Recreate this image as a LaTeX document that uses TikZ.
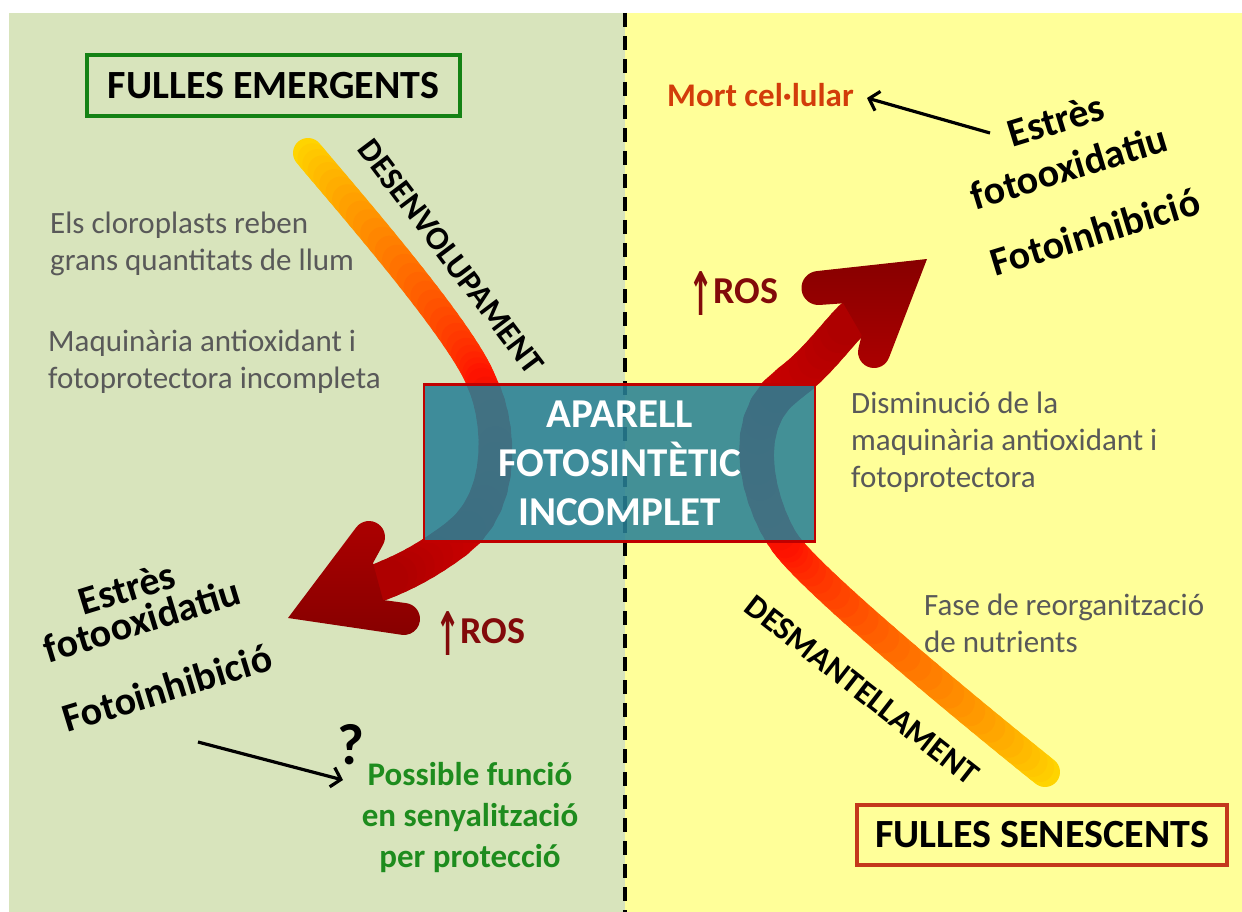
\documentclass[tikz,border=0pt]{standalone}
\usepackage{fontspec}
\setmainfont{Carlito}
\newfontfamily\arrowfont{DejaVu Sans}
\usetikzlibrary{arrows.meta}
\definecolor{bggreen}{RGB}{216,228,188}
\definecolor{bgyellow}{RGB}{255,255,153}
\definecolor{gYel}{RGB}{255,215,0}
\definecolor{gRed}{RGB}{255,20,0}
\definecolor{aRed}{RGB}{200,0,0}
\definecolor{aMid}{RGB}{172,0,0}
\definecolor{aDark}{RGB}{135,0,0}
\definecolor{boxteal}{RGB}{40,128,150}
\definecolor{boxred}{RGB}{192,0,0}
\definecolor{emgreen}{RGB}{20,130,20}
\definecolor{senred}{RGB}{196,56,28}
\definecolor{txtgray}{RGB}{89,89,89}
\definecolor{rosred}{RGB}{130,10,10}
\definecolor{mortred}{RGB}{210,60,10}
\definecolor{possgreen}{RGB}{30,140,30}
\newcommand\gradcurve[9]{%
  \foreach \i in {0,...,#9}{%
    \pgfmathsetmacro\tpos{\i/#9}%
    \path #1 .. controls #2 and #3 .. #4 coordinate[pos=\tpos] (gc\i);%
  }%
  \pgfmathtruncatemacro\nm{#9-1}%
  \foreach \i in {0,...,\nm}{%
    \pgfmathtruncatemacro\j{\i+1}%
    \pgfmathsetmacro\p{100*(\i+0.5)/#9}%
    \pgfmathsetmacro\w{#7+(#8-#7)*(\i+0.5)/#9}%
    \draw[line width=\w pt, line cap=round, color=#6!\p!#5] (gc\i) -- (gc\j);%
  }%
}
\newcommand\uparr{{\arrowfont\bfseries\fontsize{40}{40}\selectfont\raisebox{-12pt}{\scalebox{0.75}[1.5]{↑}}}}
\begin{document}
\begin{tikzpicture}[x=1pt,y=-1pt,
  titlebox/.style={draw, line width=4pt, font=\fontsize{40}{48}\selectfont\bfseries, inner sep=0pt},
  graytxt/.style={text=txtgray, font=\fontsize{31}{37}\selectfont, align=left, anchor=west, inner sep=0pt},
  stress/.style={font=\fontsize{40}{48}\selectfont\bfseries, rotate=17, inner sep=0pt},
  phase/.style={font=\fontsize{33}{37}\selectfont\bfseries, inner sep=0pt},
  ros/.style={text=rosred, font=\fontsize{38}{46}\selectfont\bfseries, inner sep=0pt, anchor=base west},
  blackarrow/.style={line width=3.2pt, -{Straight Barb[length=9pt,width=20pt,line width=3.2pt]}},
  divider/.style={line width=3.5pt, dash pattern=on 14pt off 9pt}
]
\useasboundingbox (0,0) rectangle (1242,912);
\fill[white] (0,0) rectangle (1242,912);
\fill[bggreen] (9,13) rectangle (625,912);
\fill[bgyellow] (625,13) rectangle (1242,912);
\coordinate (dtop) at (625,13);
\coordinate (dbot) at (625,912);
\draw[divider] (dtop) -- (dbot);

% left curve (development) and arrow
\gradcurve{(308,153)}{(350,203)}{(465,335)}{(482,383)}{gYel}{gRed}{30}{30}{30}
\gradcurve{(482,383)}{(498,415)}{(510,500)}{(455,540)}{gRed}{aRed}{30}{38}{12}
\gradcurve{(455,540)}{(425,562)}{(405,572)}{(380,582)}{aRed}{aMid}{38}{38}{8}
\shade[top color=aMid, bottom color=aDark]
  (288,618) -- (356.2,527.4) arc[start angle=-143, end angle=28.6, radius=16]
  -- (373,563) -- (383,600) -- (406.1,603.1) arc[start angle=-82.5, end angle=98.4, radius=16]
  -- cycle;

% right curve (dismantling) and arrow
\gradcurve{(1045,772)}{(990,728)}{(815,585)}{(785,543)}{gYel}{gRed}{30}{30}{30}
\gradcurve{(785,543)}{(765,515)}{(730,425)}{(790,383)}{gRed}{aRed}{30}{38}{12}
\gradcurve{(790,383)}{(815,365)}{(835,337)}{(852.5,319)}{aRed}{aMid}{38}{38}{8}
\shade[top color=aDark, bottom color=aMid]
  (927,259) -- (816.6,271.1) arc[start angle=-96.3, end angle=-274.4, radius=17]
  -- (843.3,303.3) -- (861.7,335) -- (858.5,348.2) arc[start angle=193.8, end angle=21.1, radius=16]
  -- cycle;

% central box
\node[draw=boxred, line width=2.5pt, fill=boxteal, fill opacity=0.87, draw opacity=1, text opacity=1,
      minimum width=391pt, minimum height=157pt, inner sep=0pt, text=white, align=center,
      font=\fontsize{41}{49}\selectfont\bfseries] (app) at (619.5,463) {APARELL\\FOTOSINTÈTIC\\INCOMPLET};

% title boxes
\node[titlebox, draw=emgreen, minimum width=373pt, minimum height=61pt] (emerg) at (273.5,85.5) {FULLES EMERGENTS};
\node[titlebox, draw=senred, minimum width=370pt, minimum height=60pt] (senes) at (1042,835) {FULLES SENESCENTS};

% gray texts
\node[graytxt] (g1) at (50,243.5) {Els cloroplasts reben\\grans quantitats de llum};
\node[graytxt] (g2) at (48,361.5) {Maquinària antioxidant i\\fotoprotectora incompleta};
\node[graytxt] (g3) at (851,442) {Disminució de la\\maquinària antioxidant i\\fotoprotectora};
\node[graytxt] (g4) at (924,623) {Fase de reorganització\\de nutrients};

% phase labels
\node[phase, rotate=-53] (desenv) at (451,257) {DESENVOLUPAMENT};
\node[phase, rotate=-38] (desmant) at (862,690) {DESMANTELLAMENT};

% stress texts left
\node[stress] (ls1) at (127,588) {Estrès};
\node[stress] (ls2) at (142,620) {fotooxidatiu};
\node[stress] (ls3) at (167,688) {Fotoinhibició};
% stress texts right
\node[stress] (rs1) at (1056,120) {Estrès};
\node[stress] (rs2) at (1069,167) {fotooxidatiu};
\node[stress] (rs3) at (1095,232) {Fotoinhibició};

% ROS
\node[ros] (rosl) at (435,643) {\uparr ROS};
\node[ros] (rosr) at (688,303) {\uparr ROS};

% cell death
\node[text=mortred, font=\fontsize{33}{40}\selectfont\bfseries, anchor=west, inner sep=0pt] (mort) at (667,95) {Mort cel·lular};
\coordinate (ma1) at (990,133);
\coordinate (ma2) at (867,98);
\draw[blackarrow] (ma1) -- (ma2);

% possible function
\node[font=\fontsize{58}{60}\selectfont\bfseries, inner sep=0pt] (quest) at (351,745) {?};
\node[text=possgreen, font=\fontsize{33}{41}\selectfont\bfseries, align=center, inner sep=0pt] (poss) at (470,818) {Possible funció\\en senyalització\\per protecció};
\coordinate (pa1) at (198,742);
\coordinate (pa2) at (343,780);
\draw[blackarrow] (pa1) -- (pa2);
\end{tikzpicture}
\end{document}
